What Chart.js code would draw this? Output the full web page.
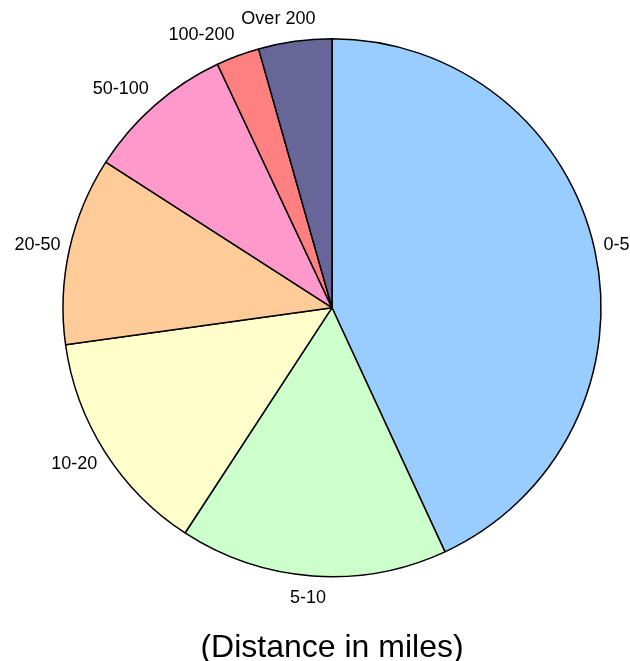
<!DOCTYPE html>
<html>
<head>
<meta charset="utf-8">
<script src="https://cdn.jsdelivr.net/npm/chart.js@4"></script>
<style>
  body { margin: 0; background: #fff; }
  #wrap { width: 630px; height: 661px; }
</style>
</head>
<body>
<div id="wrap"><canvas id="distance-pie" width="630" height="661"></canvas></div>
<script>
// distance bands and share of trips
const categories = ["0-5", "5-10", "10-20", "20-50", "50-100", "100-200", "Over 200"];
const shares = [43.1, 16.1, 13.6, 11.3, 8.9, 2.6, 4.4];
const sliceColors = [
  "#99CCFF", // 0-5
  "#CCFFCC",
  "#FFFFCC",
  "#FFCC99",
  "#FF99CC",
  "#FF8080",
  "#666699", // over 200
];
const titleText = "(Distance in miles)";

const labelFont = '18px "Liberation Sans", Arial, sans-serif';

// category names drawn just outside the rim, at the middle of each slice
const outsideLabels = {
  id: "outsideLabels",
  afterDatasetsDraw(chart) {
    const ctx = chart.ctx;
    const meta = chart.getDatasetMeta(0);
    ctx.save();
    ctx.font = labelFont;
    ctx.fillStyle = "#000";
    ctx.textAlign = "center";
    ctx.textBaseline = "middle";
    meta.data.forEach((arc, i) => {
      const p = arc.getProps(["x", "y", "startAngle", "endAngle", "outerRadius"], true);
      const mid = (p.startAngle + p.endAngle) / 2;
      const ux = Math.cos(mid);
      const uy = Math.sin(mid);
      const r = p.outerRadius + 9;
      const ax = p.x + ux * r;
      const ay = p.y + uy * r;
      const w = ctx.measureText(categories[i]).width;
      const shift = Math.max(-0.5, Math.min(0.5, 1.5 * ux));
      ctx.fillText(categories[i], ax + shift * w, ay + uy * 13);
    });
    ctx.restore();
  },
};

function createDistancePie() {
  const ctx = document.getElementById("distance-pie").getContext("2d");

  const data = {
    labels: categories,
    datasets: [
      {
        data: shares,
        backgroundColor: sliceColors,
        borderColor: "#000",
        borderWidth: 1.5,
      },
    ],
  };

  const config = {
    type: "pie",
    data: data,
    options: {
      responsive: false,
      animation: false,
      radius: 269,
      layout: {
        padding: { top: 20, left: 40, right: 6, bottom: 0 },
      },
      plugins: {
        legend: { display: false },
        tooltip: { enabled: false },
        title: {
          display: true,
          position: "bottom",
          text: titleText,
          color: "#000",
          font: { family: '"Liberation Sans", Arial, sans-serif', size: 32, weight: "normal", lineHeight: 0.8 },
          padding: { top: 40, bottom: 0 },
        },
      },
    },
    plugins: [outsideLabels],
  };

  const myChart = new Chart(ctx, config);
}

createDistancePie();
</script>
</body>
</html>
